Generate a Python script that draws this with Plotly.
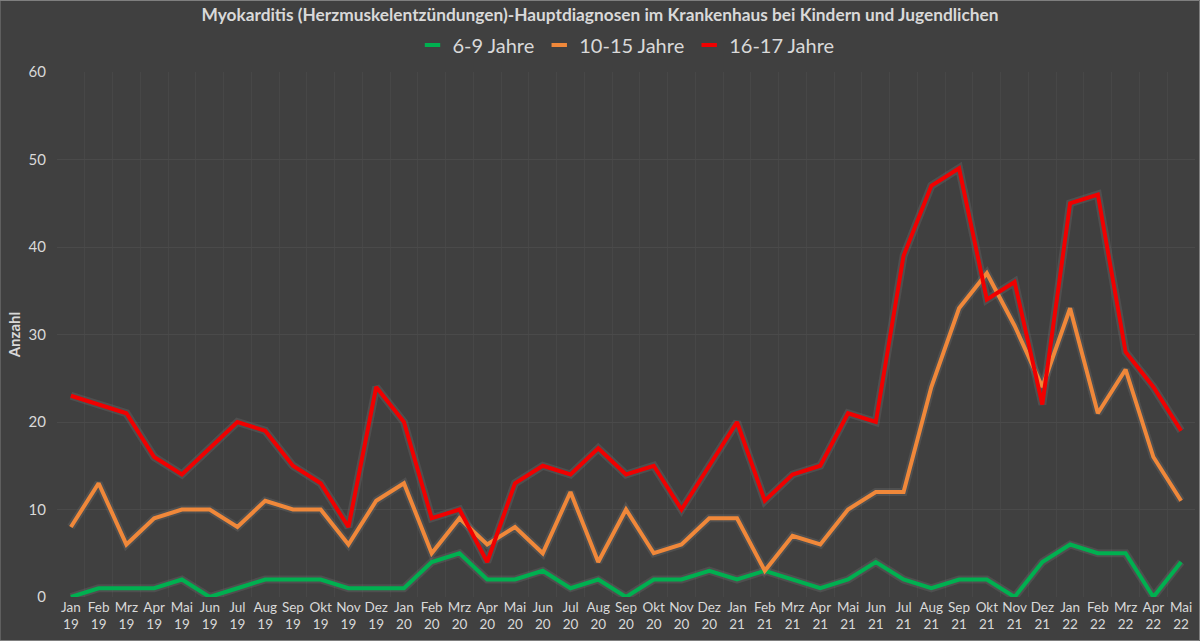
import plotly.graph_objects as go

months = ["Jan", "Feb", "Mrz", "Apr", "Mai", "Jun", "Jul", "Aug", "Sep", "Okt", "Nov", "Dez"]
categories = []
for yy in ["19", "20", "21", "22"]:
    for m in months:
        categories.append(f"{m}<br>{yy}")
categories = categories[:41]  # Jan 19 .. Mai 22

age_6_9 = [0, 1, 1, 1, 2, 0, 1, 2, 2, 2, 1, 1,
           1, 4, 5, 2, 2, 3, 1, 2, 0, 2, 2, 3,
           2, 3, 2, 1, 2, 4, 2, 1, 2, 2, 0, 4,
           6, 5, 5, 0, 4]
age_10_15 = [8, 13, 6, 9, 10, 10, 8, 11, 10, 10, 6, 11,
             13, 5, 9, 6, 8, 5, 12, 4, 10, 5, 6, 9,
             9, 3, 7, 6, 10, 12, 12, 24, 33, 37, 31, 24,
             33, 21, 26, 16, 11]
age_16_17 = [23, 22, 21, 16, 14, 17, 20, 19, 15, 13, 8, 24,
             20, 9, 10, 4, 13, 15, 14, 17, 14, 15, 10, 15,
             20, 11, 14, 15, 21, 20, 39, 47, 49, 34, 36, 22,
             45, 46, 28, 24, 19]

series = [("6-9 Jahre", age_6_9, "#00B050"),
          ("10-15 Jahre", age_10_15, "#F0883A"),
          ("16-17 Jahre", age_16_17, "#F00000")]

x = list(range(len(categories)))
fig = go.Figure()
# subtle glow layers
for name, vals, col in series:
    fig.add_trace(go.Scatter(x=x, y=vals, mode="lines", showlegend=False, hoverinfo="skip",
                             line=dict(color="rgba(130,130,130,0.22)", width=8)))
for name, vals, col in series:
    fig.add_trace(go.Scatter(x=x, y=vals, mode="lines", name=name, showlegend=False,
                             line=dict(color=col, width=4)))
# legend entries with short dash symbols
for name, vals, col in series:
    fig.add_trace(go.Scatter(x=[None], y=[None], mode="markers", name=name,
                             marker=dict(symbol="line-ew", size=11,
                                         line=dict(color=col, width=4))))

bg = "#404040"
fig.update_layout(
    width=1200, height=641,
    paper_bgcolor=bg, plot_bgcolor=bg,
    margin=dict(l=57, r=5, t=72, b=44),
    title=dict(text="<b>Myokarditis (Herzmuskelentzündungen)-Hauptdiagnosen im Krankenhaus bei Kindern und Jugendlichen</b>",
               x=0.5, xanchor="center", y=0.976, yanchor="middle",
               font=dict(family="Lato", size=17.3, color="#D9D9D9")),
    legend=dict(orientation="h", x=0.5, xanchor="center", y=1 + 27 / 525, yanchor="middle",
                font=dict(family="Lato", size=20, color="#D9D9D9"),
                itemwidth=30, bgcolor="rgba(0,0,0,0)"),
    font=dict(family="Lato", color="#D9D9D9"),
    showlegend=True,
)
fig.update_xaxes(range=[-0.5, 40.5], tickmode="array", tickvals=x, ticktext=categories,
                 showgrid=False, zeroline=False, showline=False,
                 tickfont=dict(family="Lato", size=13.5, color="#D9D9D9"),
                 ticks="", ticklen=0,
                 tickprefix="<b>", ticksuffix="</b>",
                 minor=dict(tickvals=[i - 0.5 for i in range(42)], showgrid=True,
                            gridcolor="#474747", gridwidth=1, ticks=""))
fig.update_yaxes(range=[0, 60], tickvals=[0, 10, 20, 30, 40, 50, 60],
                 showgrid=True, gridcolor="#4A4A4A", zeroline=False, showline=False,
                 tickfont=dict(family="Lato", size=15, color="#D9D9D9"),
                 tickprefix="<b>", ticksuffix="</b>",
                 ticklabelstandoff=10,
                 title=dict(text="<b>Anzahl</b>", font=dict(family="Lato", size=15, color="#D9D9D9"), standoff=4))

fig.add_shape(type="rect", xref="paper", yref="paper",
              x0=-57 / 1138, x1=1 + 4.5 / 1138, y0=-43.5 / 525, y1=1 + 71.5 / 525,
              line=dict(color="#7F7F7F", width=1), fillcolor="rgba(0,0,0,0)", layer="below")

fig.write_html("out.html")
